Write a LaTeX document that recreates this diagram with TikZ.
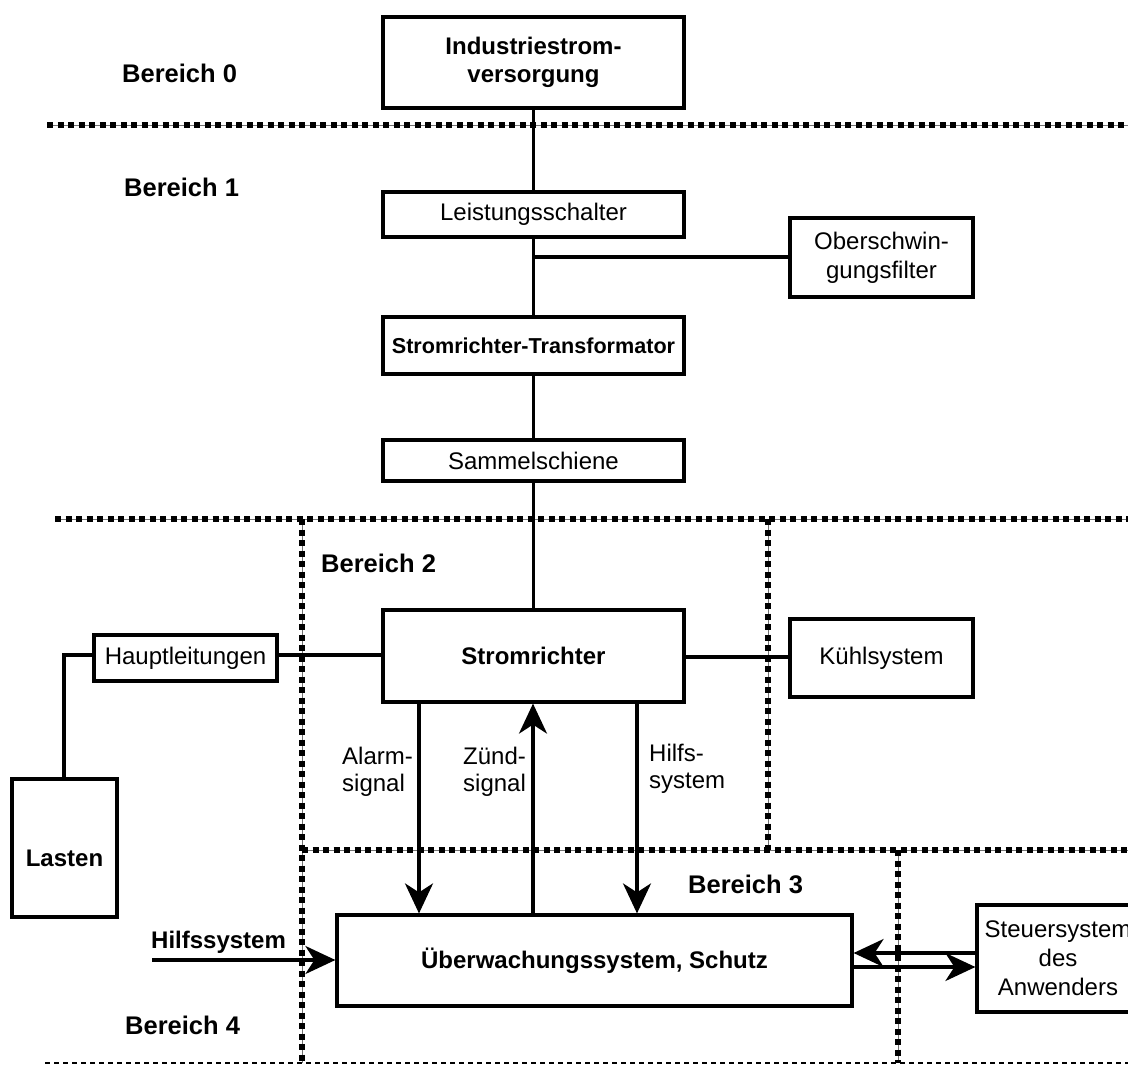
\documentclass[tikz,border=0pt]{standalone}
\usepackage{fontspec}
\setmainfont{Liberation Sans}
\usetikzlibrary{arrows.meta}
\begin{document}
\begin{tikzpicture}[x=1pt,y=-1pt,
  box/.style={draw, line width=3.2pt, inner sep=0pt, align=center,
    font=\fontsize{24}{28}\selectfont},
  boldbox/.style={box, font=\fontsize{24}{28}\selectfont\bfseries},
  wire/.style={line width=3.2pt},
  arr/.style={wire, -{Stealth[length=30pt,width=28pt,inset=9pt]}},
  zone/.style={line width=6pt, dash pattern=on 6pt off 4.5pt,
    preaction={draw, solid, line width=0.8pt, black!55}},
  boundary/.style={line width=1.5pt, dash pattern=on 5pt off 4pt},
  zonelabel/.style={anchor=west, inner sep=0pt, font=\fontsize{25.5}{30}\selectfont\bfseries},
  sig/.style={anchor=west, inner sep=0pt, align=left, font=\fontsize{24}{27}\selectfont}]

\useasboundingbox (0,0) rectangle (1128,1066);

% zone borders
\draw[zone] (47,125) -- (1140,125);
\draw[zone] (55,519) -- (1140,519);
\draw[zone] (302,519) -- (302,1063);
\draw[zone] (768,519) -- (768,850);
\draw[zone] (302,850) -- (1140,850);
\draw[zone] (898,850) -- (898,1063);
\draw[boundary] (45,1063) -- (1140,1063);

% zone names
\node[zonelabel] (z0) at (122,73) {Bereich 0};
\node[zonelabel] (z1) at (124,187) {Bereich 1};
\node[zonelabel] (z2) at (321,563) {Bereich 2};
\node[zonelabel] (z3) at (688,884) {Bereich 3};
\node[zonelabel] (z4) at (125,1025) {Bereich 4};

% blocks
\node[boldbox, minimum width=301pt, minimum height=91pt] (ind) at (533.5,62.5) {Industriestrom-\\versorgung};
\node[box, minimum width=301pt, minimum height=45pt] (leist) at (533.5,214.5) {Leistungsschalter};
\node[box, minimum width=183pt, minimum height=79pt, font=\fontsize{24}{29}\selectfont] (ober) at (881.5,257.5) {Oberschwin-\\gungsfilter};
\node[boldbox, minimum width=301pt, minimum height=57pt, font=\fontsize{21.6}{26}\selectfont\bfseries] (trafo) at (533.5,345.5) {Stromrichter-Transformator};
\node[box, minimum width=301pt, minimum height=41pt] (sammel) at (533.5,460.5) {Sammelschiene};
\node[boldbox, minimum width=301pt, minimum height=92pt] (strom) at (533.5,656) {Stromrichter};
\node[box, minimum width=183pt, minimum height=78pt] (kuehl) at (881.5,658) {Kühlsystem};
\node[box, minimum width=183pt, minimum height=46pt] (haupt) at (185.5,658) {Hauptleitungen};
\node[boldbox, minimum width=105pt, minimum height=138pt, text height=37pt, text depth=0pt] (lasten) at (64.5,848) {Lasten};
\node[boldbox, minimum width=515pt, minimum height=91pt] (ueber) at (594.5,960.5) {Überwachungssystem, Schutz};
\node[box, minimum width=162pt, minimum height=107pt, font=\fontsize{24}{29}\selectfont] (steuer) at (1058,958.5) {Steuersystem\\des\\Anwenders};

% auxiliary points
\coordinate (junc) at (533.5,257);
\coordinate (xa) at (419,0);
\coordinate (xz) at (533,0);
\coordinate (xh) at (637,0);
\coordinate (bend) at (64,655);
\coordinate (aux) at (152,960);
\coordinate (yback) at (0,953);
\coordinate (yfwd) at (0,967);

% power path
\draw[wire] (ind.south) -- (leist.north);
\draw[wire] (leist.south) -- (trafo.north);
\draw[wire] (junc) -- (junc -| ober.west);
\draw[wire] (trafo.south) -- (sammel.north);
\draw[wire] (sammel.south) -- (strom.north);
\draw[wire] (strom.east |- 0,657) -- (kuehl.west |- 0,657);
\draw[wire] (strom.west |- 0,655) -- (haupt.east |- 0,655);
\draw[wire] (haupt.west |- 0,655) -- (bend) -- (lasten.north -| bend);

% signals
\draw[arr] (strom.south -| xa) -- (ueber.north -| xa);
\draw[arr] (ueber.north -| xz) -- (strom.south -| xz);
\draw[arr] (strom.south -| xh) -- (ueber.north -| xh);
\draw[arr] (aux) -- (ueber.west |- aux);
\draw[arr] (steuer.west |- yback) -- (ueber.east |- yback);
\draw[arr] (ueber.east |- yfwd) -- (steuer.west |- yfwd);

% signal names
\node[sig] (la) at (342,772) {Alarm-\\signal};
\node[sig] (lz) at (463,772) {Zünd-\\signal};
\node[sig] (lh) at (649,769) {Hilfs-\\system};
\node[anchor=west, inner sep=0pt, font=\fontsize{24}{28}\selectfont\bfseries] (lhs) at (151,942) {Hilfssystem};

\end{tikzpicture}
\end{document}
